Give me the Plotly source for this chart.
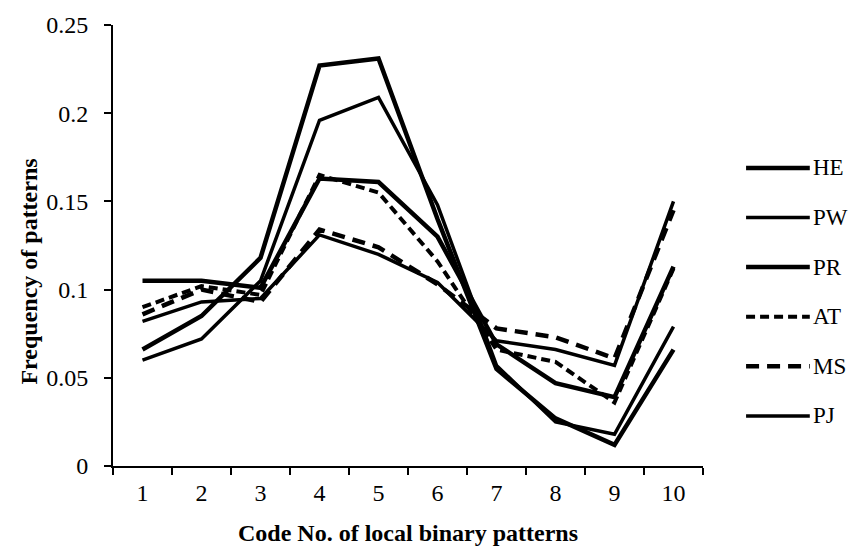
import plotly.graph_objects as go

# Code numbers of the local binary patterns (x categories)
codes = ["1", "2", "3", "4", "5", "6", "7", "8", "9", "10"]

# Frequency of each pattern code per class
HE = [0.066, 0.085, 0.118, 0.227, 0.231, 0.140, 0.055, 0.027, 0.012, 0.066]
PW = [0.060, 0.072, 0.105, 0.196, 0.209, 0.148, 0.057, 0.025, 0.018, 0.079]
PR = [0.105, 0.105, 0.101, 0.163, 0.161, 0.130, 0.069, 0.047, 0.039, 0.113]
AT = [0.090, 0.102, 0.097, 0.165, 0.155, 0.116, 0.066, 0.059, 0.036, 0.112]
MS = [0.086, 0.100, 0.093, 0.134, 0.124, 0.103, 0.078, 0.073, 0.061, 0.145]
PJ = [0.082, 0.093, 0.095, 0.131, 0.120, 0.104, 0.071, 0.066, 0.057, 0.150]

series_names = ["HE", "PW", "PR", "AT", "MS", "PJ"]
series_values = [HE, PW, PR, AT, MS, PJ]
series_dash = ["solid", "solid", "solid", "9px,5px", "13px,8px", "solid"]
series_width = [4.5, 3.5, 4.5, 4, 4.5, 3.5]

y_ticks = [0, 0.05, 0.1, 0.15, 0.2, 0.25]
y_tick_text = ["0", "0.05", "0.1", "0.15", "0.2", "0.25"]

FONT = "Liberation Serif, Times New Roman, serif"
INK = "#000000"
TICK_SIZE = 24
TITLE_SIZE = 24

fig = go.Figure()
for name, vals, dash, w in zip(series_names, series_values, series_dash, series_width):
    fig.add_trace(go.Scatter(
        x=codes, y=vals, name=name, mode="lines",
        line=dict(color=INK, width=w, dash=dash),
        showlegend=False,
    ))

# Legend on the right: sample line + label for each class
legend_top = 0.676
legend_step = 0.1125
shapes = []
annotations = []
for i, (name, dash, w) in enumerate(zip(series_names, series_dash, series_width)):
    yy = legend_top - i * legend_step
    shapes.append(dict(
        type="line", xref="paper", yref="paper",
        x0=1.073, x1=1.181, y0=yy, y1=yy,
        line=dict(color=INK, width=w, dash=dash),
    ))
    annotations.append(dict(
        text=name, xref="paper", yref="paper", x=1.183, y=yy,
        xanchor="left", yanchor="middle", showarrow=False,
        font=dict(family=FONT, size=23, color=INK),
    ))

annotations.append(dict(
    text="<b>Frequency of patterns</b>", xref="paper", yref="paper",
    x=-0.143, y=0.44, textangle=-90, showarrow=False,
    xanchor="center", yanchor="middle",
    font=dict(family=FONT, size=TITLE_SIZE, color=INK),
))
annotations.append(dict(
    text="<b>Code No. of local binary patterns</b>", xref="paper", yref="paper",
    x=0.5, y=-0.153, showarrow=False, xanchor="center", yanchor="middle",
    font=dict(family=FONT, size=TITLE_SIZE, color=INK),
))

fig.update_layout(
    width=857, height=554,
    margin=dict(l=113, r=154, t=16, b=88),
    paper_bgcolor="white", plot_bgcolor="white",
    font=dict(family=FONT, size=TICK_SIZE, color=INK),
    shapes=shapes, annotations=annotations,
    showlegend=False,
)
fig.update_xaxes(
    type="category", range=[-0.5, 9.5],
    showline=True, linecolor=INK, linewidth=2,
    ticks="outside", tickson="boundaries", ticklen=7, tickwidth=2, tickcolor=INK,
    ticklabelstandoff=4,
    showgrid=False, zeroline=False,
    tickfont=dict(family=FONT, size=TICK_SIZE, color=INK),
)
fig.update_yaxes(
    range=[0, 0.25], tickvals=y_ticks, ticktext=y_tick_text,
    showline=True, linecolor=INK, linewidth=2,
    ticks="outside", ticklen=7, tickwidth=2, tickcolor=INK,
    ticklabelstandoff=11,
    showgrid=False, zeroline=False,
    tickfont=dict(family=FONT, size=TICK_SIZE, color=INK),
)

fig.write_html("out.html")
